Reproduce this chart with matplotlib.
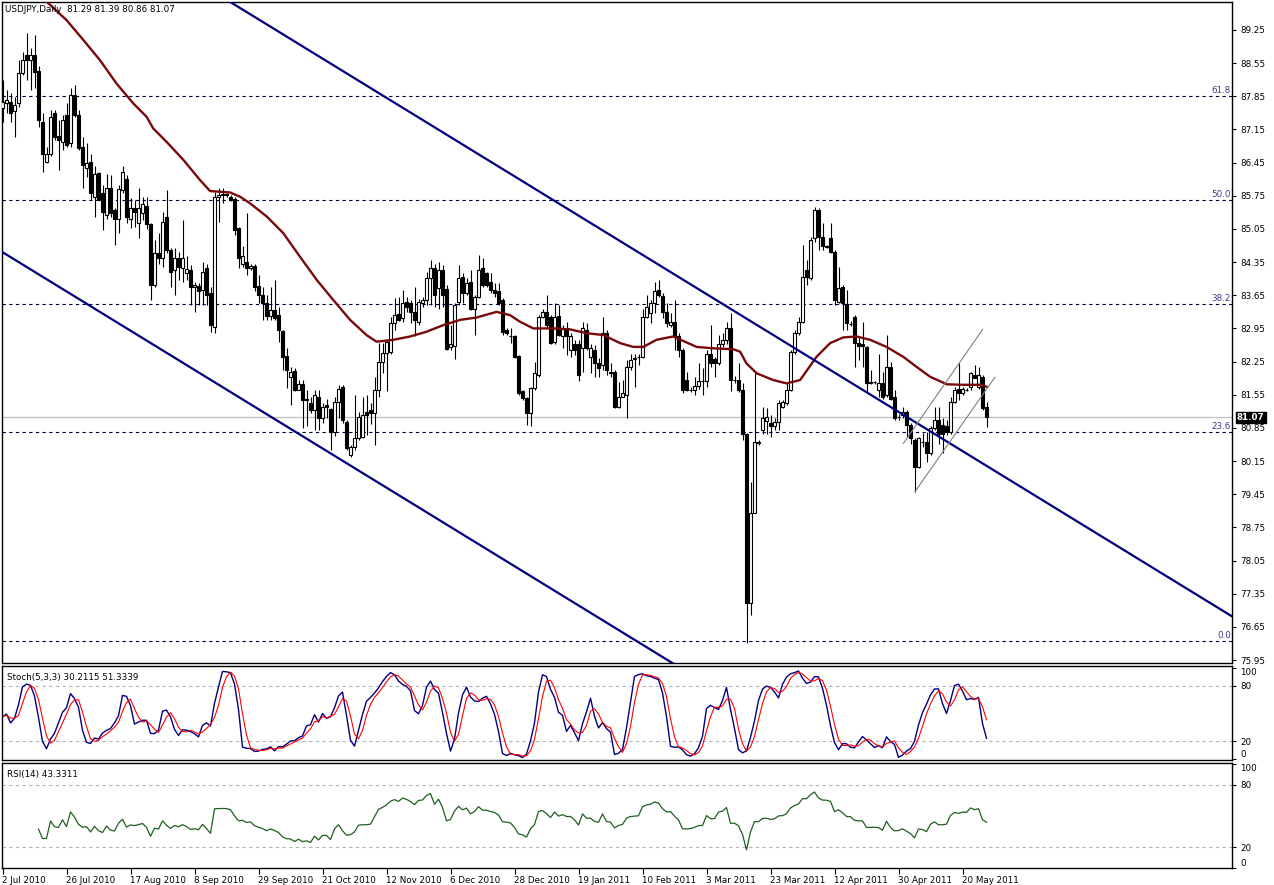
import numpy as np
import pandas as pd
import matplotlib
matplotlib.use('Agg')
import matplotlib.pyplot as plt
import matplotlib.transforms as mtransforms

plt.rcParams['font.family'] = ['DejaVu Sans']

# daily USDJPY bars (bar 0 = 2 Jul 2010)
opens = [
    87.60, 87.71, 87.74, 87.53, 87.70, 88.34, 88.72, 88.62, 88.72, 88.39,
    87.31, 86.47, 86.64, 87.49, 87.01, 86.89, 87.46, 86.86, 87.88, 87.46,
    86.79, 86.33, 86.47, 85.73, 86.24, 85.80, 85.34, 85.91, 85.44, 85.27,
    85.87, 86.10, 85.27, 85.49, 85.18, 85.38, 85.53, 85.15, 83.87, 84.54,
    84.43, 85.31, 84.61, 84.18, 84.44, 84.23, 84.13, 84.18, 83.82, 83.85,
    83.77, 84.22, 83.69, 82.99, 85.73, 85.76, 85.78, 85.73, 85.68, 85.06,
    84.32, 84.36, 84.22, 84.27, 83.85, 83.66, 83.48, 83.21, 83.34, 83.23,
    82.90, 82.37, 81.92, 82.06, 81.66, 81.78, 81.44, 81.37, 81.23, 81.51,
    81.05, 81.33, 81.24, 80.77, 81.40, 81.72, 80.98, 80.28, 80.45, 80.63,
    80.66, 81.19, 81.23, 81.16, 81.65, 82.25, 82.44, 82.46, 83.06, 83.25,
    83.16, 83.51, 83.48, 83.30, 83.09, 83.48, 83.55, 84.01, 84.22, 83.80,
    84.18, 83.78, 82.56, 82.58, 83.51, 84.04, 83.69, 83.94, 83.37, 83.62,
    84.22, 84.11, 83.94, 83.76, 83.73, 83.54, 82.92, 82.80, 82.78, 82.37,
    81.62, 81.48, 81.16, 81.69, 81.97, 83.20, 83.30, 83.20, 82.67, 83.21,
    82.78, 82.95, 82.49, 82.63, 82.63, 82.53, 82.92, 82.35, 82.49, 82.21,
    82.18, 82.85, 82.02, 82.04, 81.30, 81.51, 81.54, 82.14, 82.30, 82.35,
    82.35, 83.20, 83.27, 83.48, 83.77, 83.63, 83.30, 83.02, 83.09, 82.78,
    82.49, 81.87, 81.66, 81.64, 81.73, 81.83, 81.83, 82.42, 82.30, 82.21,
    82.63, 82.70, 82.95, 81.86, 81.86, 81.65, 80.73, 77.15, 79.05, 80.56,
    80.80, 81.00, 80.96, 80.89, 80.98, 81.30, 81.37, 81.65, 82.46, 82.85,
    83.09, 84.18, 84.01, 84.85, 85.46, 84.89, 84.68, 84.85, 84.57, 83.51,
    83.82, 83.47, 83.05, 83.20, 82.64, 82.62, 82.55, 81.80, 81.82, 81.65,
    81.80, 81.54, 82.14, 81.51, 81.08, 81.12, 81.19, 80.91, 80.59, 80.03,
    80.56, 80.56, 80.31, 80.84, 81.02, 80.91, 80.88, 80.77, 81.40, 81.68,
    81.58, 81.66, 81.72, 81.97, 81.72, 81.93, 81.29,
]
highs = [
    88.19, 87.98, 87.91, 87.84, 88.62, 88.79, 89.18, 88.86, 89.14, 88.48,
    87.49, 86.79, 87.56, 87.56, 87.35, 87.46, 87.71, 88.02, 88.09, 87.56,
    86.99, 86.86, 86.64, 86.37, 86.26, 85.98, 86.22, 86.19, 85.49, 85.98,
    86.37, 86.19, 85.70, 85.66, 85.91, 85.73, 85.73, 85.17, 84.82, 84.96,
    85.41, 85.87, 84.65, 84.64, 84.57, 85.24, 84.47, 84.29, 83.94, 83.90,
    84.36, 84.32, 83.83, 85.84, 85.91, 85.91, 85.80, 85.77, 85.73, 85.10,
    84.68, 85.38, 84.32, 84.32, 84.08, 83.83, 83.66, 83.83, 83.97, 83.41,
    82.92, 82.53, 82.14, 82.11, 81.86, 81.86, 81.65, 81.51, 81.65, 81.65,
    81.37, 81.47, 81.26, 81.51, 81.76, 81.76, 81.02, 80.49, 81.54, 81.19,
    81.51, 81.54, 81.37, 81.93, 82.64, 82.64, 82.71, 83.20, 83.59, 83.62,
    83.76, 83.62, 83.55, 83.83, 83.58, 83.62, 84.15, 84.39, 84.32, 84.36,
    84.29, 83.87, 83.02, 83.48, 84.29, 84.11, 84.01, 84.18, 83.66, 84.50,
    84.43, 84.15, 84.11, 83.90, 83.90, 83.59, 82.95, 82.95, 82.81, 82.39,
    81.65, 81.51, 81.72, 82.25, 83.23, 83.37, 83.66, 83.23, 83.48, 83.44,
    83.02, 83.09, 82.85, 82.71, 82.71, 83.09, 83.06, 82.63, 82.60, 82.32,
    83.20, 82.92, 82.21, 82.07, 81.82, 81.86, 82.28, 82.42, 82.42, 82.42,
    83.37, 83.66, 83.55, 83.94, 83.97, 83.69, 83.48, 83.27, 83.55, 82.85,
    82.53, 82.04, 81.72, 81.93, 82.21, 82.11, 82.49, 83.02, 82.35, 82.81,
    82.85, 83.09, 83.27, 81.95, 82.21, 81.80, 80.75, 79.71, 82.00, 80.60,
    81.30, 81.27, 81.12, 81.05, 81.44, 81.44, 81.82, 82.49, 82.92, 83.20,
    84.71, 84.39, 84.89, 85.52, 85.49, 85.17, 84.71, 85.17, 84.61, 84.25,
    83.87, 83.76, 83.10, 83.23, 82.78, 83.09, 82.58, 82.08, 81.85, 82.42,
    82.04, 82.81, 82.25, 81.65, 81.15, 81.30, 81.23, 80.95, 80.63, 80.66,
    80.75, 80.77, 80.88, 81.30, 81.30, 81.05, 81.02, 81.51, 81.72, 82.21,
    81.72, 81.70, 82.04, 82.18, 82.14, 81.97, 81.39,
]
lows = [
    87.31, 87.50, 87.31, 86.99, 87.63, 88.30, 88.19, 87.98, 88.02, 87.21,
    86.26, 86.44, 86.58, 86.93, 86.30, 86.71, 86.79, 86.79, 87.42, 86.71,
    85.91, 86.15, 85.66, 85.31, 85.66, 85.03, 85.27, 85.31, 84.71, 84.96,
    85.80, 85.17, 85.06, 85.10, 84.85, 85.24, 85.04, 83.55, 83.83, 84.32,
    84.25, 84.54, 83.83, 83.66, 83.97, 83.94, 83.97, 83.45, 83.30, 83.45,
    83.45, 83.45, 82.88, 82.85, 85.20, 85.59, 85.72, 85.64, 84.92, 84.22,
    84.25, 84.08, 84.18, 83.73, 83.48, 83.13, 83.13, 83.13, 83.13, 82.67,
    82.07, 81.69, 81.33, 81.62, 81.64, 80.84, 80.88, 81.16, 80.81, 80.81,
    80.95, 81.05, 80.38, 80.67, 81.05, 80.95, 80.38, 80.24, 80.38, 80.59,
    80.63, 80.70, 80.93, 80.49, 81.51, 82.00, 81.62, 82.42, 82.92, 83.10,
    83.09, 83.30, 83.06, 82.78, 83.02, 83.41, 83.45, 83.45, 83.41, 83.37,
    83.41, 82.50, 82.50, 82.30, 83.44, 83.48, 83.66, 83.34, 82.81, 83.59,
    83.83, 83.83, 83.69, 83.62, 83.44, 82.81, 82.81, 82.64, 82.32, 81.55,
    81.44, 80.91, 80.88, 81.65, 81.93, 83.16, 82.95, 82.63, 82.63, 82.78,
    82.53, 82.39, 82.35, 82.39, 81.83, 82.04, 82.49, 82.00, 81.93, 81.93,
    82.07, 81.97, 81.93, 81.27, 81.27, 81.51, 81.05, 82.07, 81.72, 82.18,
    82.32, 83.16, 83.06, 83.27, 83.62, 83.16, 82.99, 82.99, 82.50, 82.35,
    81.58, 81.62, 81.60, 81.55, 81.68, 81.55, 81.72, 82.14, 81.93, 82.18,
    82.56, 82.63, 81.62, 81.80, 81.60, 80.59, 76.30, 76.90, 79.05, 80.49,
    80.73, 80.73, 80.66, 80.80, 80.80, 81.27, 81.33, 81.62, 82.42, 82.81,
    83.06, 83.87, 83.97, 84.78, 84.61, 84.61, 84.64, 84.54, 83.44, 83.48,
    82.92, 82.92, 83.00, 82.14, 82.28, 82.14, 81.61, 81.77, 81.78, 81.51,
    81.47, 81.51, 81.44, 81.02, 81.02, 81.05, 80.66, 80.52, 79.50, 80.00,
    80.45, 80.14, 80.28, 80.80, 80.52, 80.31, 80.70, 80.73, 81.37, 81.44,
    81.54, 81.62, 81.65, 81.90, 81.68, 81.23, 80.86,
]
closes = [
    87.72, 87.77, 87.49, 87.67, 88.34, 88.62, 88.62, 88.72, 88.37, 87.35,
    86.64, 86.64, 87.42, 86.99, 86.93, 87.35, 86.82, 87.88, 87.46, 86.75,
    86.40, 86.45, 85.80, 86.22, 85.67, 85.41, 85.91, 85.38, 85.27, 85.89,
    86.26, 85.30, 85.49, 85.41, 85.49, 85.58, 85.15, 83.87, 84.55, 84.43,
    85.20, 84.61, 84.15, 84.43, 84.25, 84.44, 84.20, 83.82, 83.87, 83.75,
    84.15, 83.66, 83.02, 85.73, 85.77, 85.78, 85.77, 85.66, 85.03, 84.43,
    84.47, 84.22, 84.27, 83.83, 83.66, 83.48, 83.21, 83.33, 83.16, 82.92,
    82.35, 82.07, 82.04, 81.66, 81.78, 81.43, 81.47, 81.23, 81.55, 81.05,
    81.30, 81.30, 80.77, 81.40, 81.68, 81.02, 80.42, 80.45, 80.63, 81.09,
    81.12, 81.12, 81.16, 81.65, 82.25, 82.44, 82.67, 83.06, 83.23, 83.13,
    83.48, 83.41, 83.30, 83.13, 83.51, 83.55, 84.01, 84.22, 83.66, 84.18,
    83.66, 82.51, 82.63, 83.44, 84.01, 83.69, 83.90, 83.37, 83.62, 84.18,
    83.87, 83.87, 83.76, 83.69, 83.48, 82.88, 82.85, 82.78, 82.35, 81.58,
    81.48, 81.16, 81.69, 82.00, 83.20, 83.30, 83.02, 82.65, 83.20, 82.81,
    82.95, 82.78, 82.78, 82.49, 81.97, 82.95, 82.53, 82.53, 82.21, 82.11,
    82.85, 82.07, 82.00, 81.30, 81.51, 81.59, 82.14, 82.28, 82.32, 82.35,
    83.20, 83.41, 83.48, 83.73, 83.66, 83.30, 83.06, 83.09, 82.78, 82.49,
    81.65, 81.64, 81.66, 81.73, 81.83, 81.83, 82.42, 82.21, 82.21, 82.63,
    82.70, 82.95, 81.86, 81.86, 81.65, 80.73, 77.15, 79.05, 80.56, 80.54,
    81.05, 81.09, 80.89, 80.98, 81.37, 81.40, 81.65, 82.46, 82.85, 83.09,
    84.04, 84.04, 84.82, 85.45, 84.89, 84.68, 84.67, 84.57, 83.55, 83.80,
    83.48, 83.06, 83.04, 82.64, 82.57, 82.57, 81.80, 81.82, 81.82, 81.79,
    81.51, 82.14, 81.47, 81.05, 81.07, 81.19, 80.91, 80.63, 80.03, 80.63,
    80.56, 80.31, 80.84, 81.02, 80.73, 80.73, 80.77, 81.40, 81.65, 81.58,
    81.68, 81.66, 82.00, 81.90, 81.97, 81.26, 81.07,
]

# moving average (dark red)
ma_bars = [11, 16, 20.2, 24.4, 28.5, 32.7, 36, 37.7, 41, 45.2, 49.4, 51.9, 56.9,
           59.4, 61.9, 66.1, 70.2, 74.4, 78.6, 82.7, 86.9, 91, 93.5, 97.7, 101.9,
           106, 110.2, 114.4, 118.5, 123.5, 126.9, 129.4, 132.7, 137.7, 141.9, 146,
           150.2, 154.4, 157.7, 160.2, 163.5, 167.7, 173.5, 177.7, 182.7, 184.4, 186,
           188.6, 192.7, 196, 199.4, 203.5, 206.9, 210.2, 213.5, 216.9, 221, 225.2,
           228.5, 231.9, 236.1, 240.2, 244.4, 246]
ma_vals = [89.85, 89.46, 89.04, 88.61, 88.12, 87.70, 87.42, 87.17, 86.89, 86.51,
           86.08, 85.85, 85.82, 85.73, 85.59, 85.31, 84.96, 84.46, 83.97, 83.55,
           83.13, 82.81, 82.67, 82.71, 82.78, 82.88, 83.02, 83.13, 83.18, 83.30,
           83.23, 83.09, 82.95, 82.95, 82.93, 82.85, 82.81, 82.64, 82.56, 82.56,
           82.71, 82.78, 82.56, 82.53, 82.51, 82.46, 82.21, 82.00, 81.86, 81.79,
           81.86, 82.35, 82.64, 82.76, 82.78, 82.71, 82.56, 82.35, 82.14, 81.93,
           81.77, 81.76, 81.76, 81.72]

# fibonacci retracement
fib_low = 76.36
fib_high = 94.98
fib_levels = [0.0, 23.6, 38.2, 50.0, 61.8]

# trend lines: (bar, price) end points
upper_channel = [(0, 92.79), (307.4, 76.87)]
lower_channel = [(0, 84.56), (307.4, 68.64)]
small_chan_lo = [(228.1, 79.50), (248.1, 81.92)]
small_chan_hi = [(225.2, 80.52), (245.05, 82.93)]

last_price = 81.07
price_ticks = [89.25 - 0.70 * i for i in range(20)]
date_labels = ['2 Jul 2010', '26 Jul 2010', '17 Aug 2010', '8 Sep 2010', '29 Sep 2010',
               '21 Oct 2010', '12 Nov 2010', '6 Dec 2010', '28 Dec 2010', '19 Jan 2011',
               '10 Feb 2011', '3 Mar 2011', '23 Mar 2011', '12 Apr 2011', '30 Apr 2011',
               '20 May 2011']
label_step = 16

o = np.array(opens)
h = np.array(highs)
l = np.array(lows)
c = np.array(closes)
x = np.arange(len(c))

# indicators
df = pd.DataFrame({'high': h, 'low': l, 'close': c})
ll = df['low'].rolling(5, min_periods=1).min()
hh = df['high'].rolling(5, min_periods=1).max()
k = 100 * (df['close'] - ll).rolling(3, min_periods=1).sum() / (hh - ll).rolling(3, min_periods=1).sum()
d = k.rolling(3, min_periods=1).mean()
delta = df['close'].diff()
gain = delta.clip(lower=0).ewm(alpha=1 / 14, adjust=True, min_periods=9).mean()
loss = (-delta.clip(upper=0)).ewm(alpha=1 / 14, adjust=True, min_periods=9).mean()
rsi = 100 - 100 / (1 + gain / loss)

W, H = 1274, 885
fig = plt.figure(figsize=(W / 100, H / 100), dpi=100)


def px_axes(left, top, right, bottom):
    return fig.add_axes([left / W, 1 - bottom / H, (right - left) / W, (bottom - top) / H])


ax = px_axes(2, 2, 1232, 663)
ax_st = px_axes(2, 666, 1232, 760)
ax_rsi = px_axes(2, 763, 1232, 868)

xl = (-0.125, -0.125 + 1230 / 4)
fs = 6.3

for a in (ax, ax_st, ax_rsi):
    a.set_xlim(*xl)
    a.set_facecolor('white')
    for s in a.spines.values():
        s.set_color('black')
        s.set_linewidth(1)
    a.yaxis.tick_right()
    a.tick_params(axis='y', length=3, width=0.8, labelsize=fs, pad=3, colors='black')
    a.set_xticks([])

# main price panel
ax.set_ylim(75.887, 89.841)
ax.set_yticks(price_ticks)
ax.set_yticklabels(['%.2f' % v for v in price_ticks])

rng = fib_high - fib_low
for lev in fib_levels:
    p = fib_low + rng * lev / 100
    ax.axhline(p, color='#000033', lw=0.8, ls=(0, (3, 3)), zorder=1)
    ax.text(0.999, p + 0.02, '%.1f' % lev, transform=mtransforms.blended_transform_factory(ax.transAxes, ax.transData),
            ha='right', va='bottom', fontsize=fs, color='#3a3a8c')

ax.axhline(last_price, color='#c0c0c0', lw=0.9, zorder=1)

up = c >= o
ax.vlines(x, l, h, color='black', lw=0.8, zorder=2)
ax.bar(x[up], (c - o)[up], bottom=o[up], width=0.6, color='white', edgecolor='black', lw=0.8, zorder=3)
ax.bar(x[~up], (o - c)[~up], bottom=c[~up], width=0.6, color='black', edgecolor='black', lw=0.8, zorder=3)

ax.plot(ma_bars, ma_vals, color='#7a0a0a', lw=1.7, zorder=4)

for line, col, lw in ((upper_channel, '#000080', 1.6), (lower_channel, '#000080', 1.6),
                      (small_chan_lo, '#808080', 0.8), (small_chan_hi, '#808080', 0.8)):
    ax.plot([line[0][0], line[1][0]], [line[0][1], line[1][1]], color=col, lw=lw, zorder=5)

ax.text(1.004, last_price, '%.2f' % last_price,
        transform=mtransforms.blended_transform_factory(ax.transAxes, ax.transData),
        ha='left', va='center', fontsize=fs, color='white', fontweight='bold',
        bbox=dict(boxstyle='square,pad=0.15', fc='black', ec='black'), clip_on=False, zorder=6)

fig.text(5 / W, 1 - 10 / H, 'USDJPY,Daily  81.29 81.39 80.86 81.07', fontsize=fs, va='center', ha='left')

# stochastic
ax_st.set_ylim(-0.7, 101.8)
ax_st.axhline(80, color='#b4b4b4', lw=0.8, ls=(0, (3, 3)))
ax_st.axhline(20, color='#b4b4b4', lw=0.8, ls=(0, (3, 3)))
ax_st.plot(x, k, color='#000080', lw=1.0)
ax_st.plot(x, d, color='#ff0000', lw=0.8)
ax_st.text(5 / 1230, 0.93, 'Stoch(5,3,3) 30.2115 51.3339', transform=ax_st.transAxes,
           fontsize=fs, va='top', ha='left')

# RSI
ax_rsi.set_ylim(0.4, 100.8)
ax_rsi.axhline(80, color='#b4b4b4', lw=0.8, ls=(0, (3, 3)))
ax_rsi.axhline(20, color='#b4b4b4', lw=0.8, ls=(0, (3, 3)))
ax_rsi.plot(x, rsi, color='#1f5f1f', lw=0.9)
ax_rsi.text(5 / 1230, 0.93, 'RSI(14) 43.3311', transform=ax_rsi.transAxes,
            fontsize=fs, va='top', ha='left')

for a in (ax_st, ax_rsi):
    a.set_yticks([100, 80, 20, 0])
    a.set_yticklabels(['100', '80', '20', '0'])
    labs = a.get_yticklabels()
    labs[0].set_va('top')
    labs[3].set_va('bottom')

ax_rsi.set_xticks([i * label_step for i in range(len(date_labels))])
ax_rsi.set_xticklabels(date_labels, ha='left', fontsize=fs)
ax_rsi.tick_params(axis='x', length=4, width=0.8, pad=2)

fig.savefig('out.png', dpi=100)
